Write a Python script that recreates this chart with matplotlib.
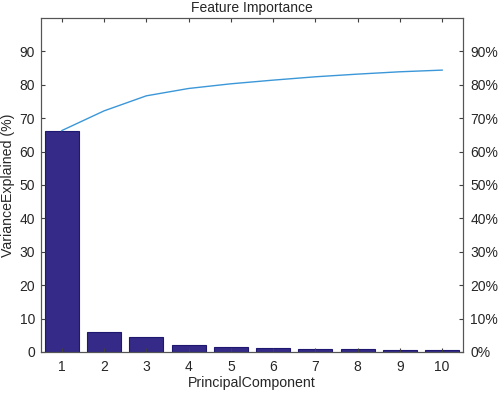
import numpy as np
import matplotlib
matplotlib.use('Agg')
import matplotlib.pyplot as plt
from matplotlib.ticker import FuncFormatter

# variance explained per principal component (%)
components = np.arange(1, 11)
variance = [66.3, 5.9, 4.5, 2.2, 1.4, 1.1, 1.0, 0.8, 0.7, 0.5]
cumulative = np.cumsum(variance)

plt.rcParams['font.family'] = ['Liberation Sans', 'DejaVu Sans']
plt.rcParams['font.size'] = 10

fig = plt.figure(figsize=(4.98, 3.95), dpi=100)
ax = fig.add_axes([0.0817, 0.1089, 0.8486, 0.8455])

ax.bar(components, variance, width=0.8, color='#352a87', edgecolor='#1f1870', linewidth=0.8)
ax.plot(components, cumulative, color='#3b97d8', linewidth=1.0)

ax.set_xlim(0.5, 10.5)
ax.set_ylim(0, 100)
ax.set_xticks(components)
ax.set_yticks(range(0, 91, 10))
ax.tick_params(direction='in', length=3, color='#404040', top=True, labelcolor='#262626')
ax.tick_params(axis='x', pad=6)
ax.tick_params(axis='y', pad=4)
ax.set_title('Feature Importance', fontsize=10, color='#262626', pad=4)
ax.set_xlabel('PrincipalComponent', fontsize=10.2, color='#262626', labelpad=1)
ax.set_ylabel('VarianceExplained (%)', fontsize=10.2, color='#262626', labelpad=3)

ax2 = ax.twinx()
ax2.set_ylim(0, 100)
ax2.set_yticks(range(0, 91, 10))
ax2.yaxis.set_major_formatter(FuncFormatter(lambda v, p: f'{int(v)}%'))
ax2.tick_params(direction='in', length=3, color='#404040', labelcolor='#262626', pad=5)

for a in (ax, ax2):
    for s in a.spines.values():
        s.set_color('#555555')
        s.set_linewidth(0.8)

fig.savefig('out.png', dpi=100)
